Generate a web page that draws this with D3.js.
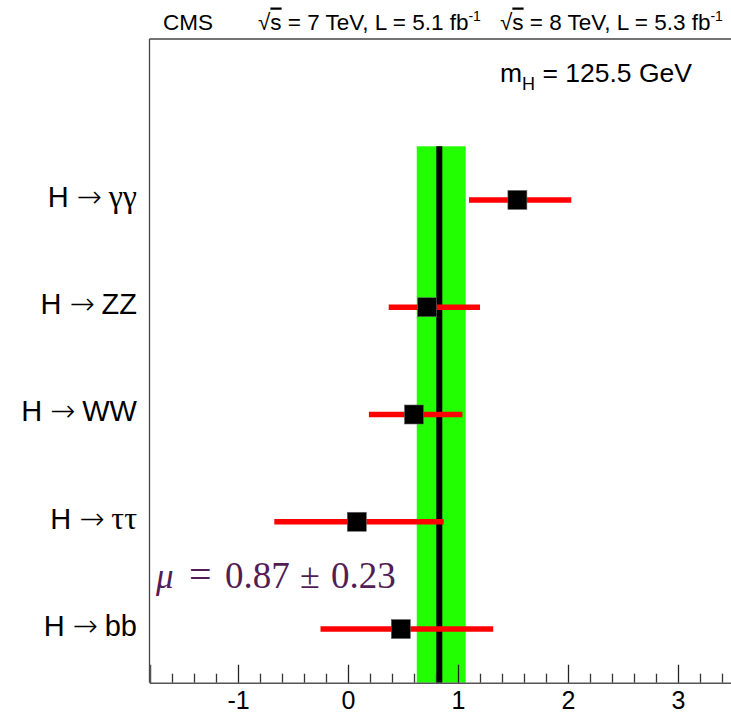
<!DOCTYPE html>
<html>
<head>
<meta charset="utf-8">
<script src="https://cdn.jsdelivr.net/npm/d3@7"></script>
<style>
  body { margin: 0; background: #fff; }
  svg { display: block; }
</style>
</head>
<body>
<div id="chart"></div>
<script>
// channels, top to bottom
const channels = [ 'γγ', 'ZZ', 'WW', 'ττ', 'bb' ];
const greekChannels = [ 'γγ', 'ττ' ];

// signal strength per channel (best fit, lower and upper 1 sigma)
const muBest = [ 1.54, 0.72, 0.60, 0.08, 0.48 ];
const muLow = [ 1.10, 0.37, 0.19, -0.67, -0.25 ];
const muHigh = [ 2.03, 1.20, 1.04, 0.87, 1.32 ];

// combined fit as drawn, and as quoted in the label
const combined = { best: 0.83, low: 0.625, high: 1.07 };
const combinedText = [ '0.87', '0.23' ];

const majorTicks = [ -1, 0, 1, 2, 3 ];
const minorTicks = d3.range(-16, 35, 2).map(function(d) { return d / 10; }).filter(function(d) { return !Number.isInteger(d); });

const width = 731, height = 713;
const sans = 'Liberation Sans, Arial, sans-serif';
const serif = 'Liberation Serif, DejaVu Serif, serif';

const svg = d3.select('#chart').
  append('svg').
  attr('width', width).
  attr('height', height);

const x = d3.scaleLinear().domain([ -1.8, 3.5 ]).range([ 150, 733 ]);
const y = d3.scaleLinear().domain([ 0.5, 6.5 ]).range([ 682.7, 39 ]);

const rows = channels.map(function(c, i) {
  return { name: c, pos: channels.length - i, best: muBest[i], low: muLow[i], high: muHigh[i] };
});

// frame: top and left
svg.append('line').
  attr('x1', x.range()[0] - 0.5).attr('x2', width).
  attr('y1', y(6.5)).attr('y2', y(6.5)).
  attr('stroke', '#444').attr('stroke-width', 1.3);
svg.append('line').
  attr('x1', x.range()[0] - 0.5).attr('x2', x.range()[0] - 0.5).
  attr('y1', y(6.5)).attr('y2', y(0.5)).
  attr('stroke', '#444').attr('stroke-width', 1.3);

// combined band + line
svg.append('rect').
  attr('x', x(combined.low)).
  attr('width', x(combined.high) - x(combined.low)).
  attr('y', y(5.5)).
  attr('height', y(0.5) - y(5.5)).
  attr('fill', '#22ff00');
svg.append('line').
  attr('x1', x(combined.best)).attr('x2', x(combined.best)).
  attr('y1', y(5.5)).attr('y2', y(0.5)).
  attr('stroke', '#000').attr('stroke-width', 6);

// x axis, ticks pointing inward
const minorAxis = d3.axisBottom(x).tickValues(minorTicks).tickSize(-9).tickFormat('');
const majorAxis = d3.axisBottom(x).tickValues(majorTicks).tickSize(-18).tickPadding(9).
  tickFormat(function(d) { return d < 0 ? '-' + Math.abs(d) : d; });

svg.append('g').attr('class', 'x minor').
  attr('transform', 'translate(0,' + y(0.5) + ')').
  call(minorAxis).
  call(function(g) { g.select('.domain').remove(); }).
  selectAll('line').attr('stroke', '#333').attr('stroke-width', 1.3);

const axisG = svg.append('g').attr('class', 'x major').
  attr('transform', 'translate(0,' + y(0.5) + ')').
  call(majorAxis);
axisG.select('.domain').attr('stroke', '#555').attr('stroke-width', 1.5);
axisG.selectAll('.tick line').attr('stroke', '#222').attr('stroke-width', 1.3);
axisG.selectAll('.tick text').
  attr('fill', '#000').
  style('font-family', sans).
  style('font-size', '25px');

// error bars
svg.selectAll('.err').
  data(rows).
  enter().append('line').
    attr('class', 'err').
    attr('x1', function(d) { return x(d.low); }).
    attr('x2', function(d) { return x(d.high); }).
    attr('y1', function(d) { return y(d.pos); }).
    attr('y2', function(d) { return y(d.pos); }).
    attr('stroke', '#ff0000').
    attr('stroke-width', 5.5);

// markers
const ms = 19;
svg.selectAll('.marker').
  data(rows).
  enter().append('rect').
    attr('class', 'marker').
    attr('x', function(d) { return x(d.best) - ms / 2; }).
    attr('y', function(d) { return y(d.pos) - ms / 2; }).
    attr('width', ms).
    attr('height', ms).
    attr('fill', '#000').
    attr('stroke', '#666').
    attr('stroke-width', 0.6);

// channel labels
const labels = svg.selectAll('.label').
  data(rows).
  enter().append('text').
    attr('class', 'label').
    attr('x', 137).
    attr('y', function(d) { return y(d.pos) + 7; }).
    attr('text-anchor', 'end').
    style('font-size', '29px').
    style('font-family', sans);
labels.append('tspan').text('H');
labels.append('tspan').
  attr('dx', 8).
  style('font-family', 'DejaVu Sans, sans-serif').
  style('font-weight', 200).
  style('font-size', '30px').
  text('→');
labels.append('tspan').
  attr('dx', 7).
  style('font-family', function(d) { return greekChannels.includes(d.name) ? serif : null; }).
  style('font-size', function(d) { return greekChannels.includes(d.name) ? '32px' : null; }).
  text(function(d) { return d.name; });

// header
svg.append('text').
  attr('x', 163).attr('y', 29.5).
  style('font-family', sans).style('font-size', '22.5px').
  text('CMS');

function energyLabel(xPos, energy, lumi) {
  const t = svg.append('text').
    attr('x', xPos).attr('y', 29.5).
    style('font-family', sans).style('font-size', '22.5px');
  t.append('tspan').text('√');
  t.append('tspan').style('text-decoration', 'overline').text('s');
  t.append('tspan').text(' = ' + energy + ' TeV, L = ' + lumi + ' fb');
  t.append('tspan').attr('dy', -9).style('font-size', '14px').text('-1');
}
energyLabel(258, 7, 5.1);
energyLabel(500, 8, 5.3);

const mh = svg.append('text').
  attr('x', 500).attr('y', 81.7).
  style('font-family', sans).style('font-size', '26.5px');
mh.append('tspan').text('m');
mh.append('tspan').attr('dy', 8).style('font-size', '18px').text('H');
mh.append('tspan').attr('dy', -8).text(' = 125.5 GeV');

// combined result
const muParts = [
  { t: 'μ', x: 156, size: 35, italic: true },
  { t: '=', x: 189, size: 40, len: 24 },
  { t: combinedText[0], x: 225, size: 37 },
  { t: '±', x: 300, size: 36, len: 21 },
  { t: combinedText[1], x: 331, size: 37 }
];
svg.append('text').
  attr('y', 588.3).
  attr('fill', '#521d54').
  style('font-family', serif).
  selectAll('tspan').
  data(muParts).
  enter().append('tspan').
    attr('x', function(d) { return d.x; }).
    attr('textLength', function(d) { return d.len || null; }).
    attr('lengthAdjust', 'spacing').
    style('font-size', function(d) { return d.size + 'px'; }).
    style('font-style', function(d) { return d.italic ? 'italic' : null; }).
    text(function(d) { return d.t; });
</script>
</body>
</html>
